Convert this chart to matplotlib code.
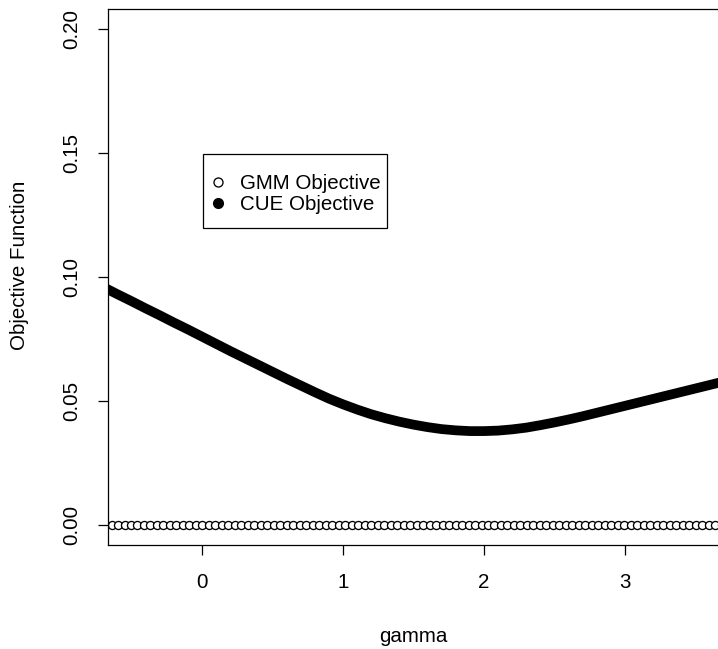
import numpy as np
import matplotlib
matplotlib.use("Agg")
import matplotlib.pyplot as plt
from matplotlib.patches import Rectangle

plt.rcParams['font.family'] = ['Liberation Sans', 'DejaVu Sans']

# CUE objective, gamma step 0.1
cue_gamma = [-0.7, -0.6, -0.5, -0.4, -0.3, -0.2, -0.1, 0.0, 0.1, 0.2,
             0.3, 0.4, 0.5, 0.6, 0.7, 0.8, 0.9, 1.0, 1.1, 1.2,
             1.3, 1.4, 1.5, 1.6, 1.7, 1.8, 1.9, 2.0, 2.1, 2.2,
             2.3, 2.4, 2.5, 2.6, 2.7, 2.8, 2.9, 3.0, 3.1, 3.2,
             3.3, 3.4, 3.5, 3.6, 3.7]
cue_obj = [0.0960, 0.0931, 0.0903, 0.0874, 0.0846, 0.0817, 0.0789, 0.0760, 0.0731, 0.0702,
           0.0674, 0.0646, 0.0618, 0.0590, 0.0563, 0.0536, 0.0510, 0.0487, 0.0466, 0.0447,
           0.0431, 0.0417, 0.0405, 0.0395, 0.0387, 0.0382, 0.0379, 0.0379, 0.0381, 0.0386,
           0.0393, 0.0403, 0.0414, 0.0426, 0.0439, 0.0453, 0.0467, 0.0481, 0.0495, 0.0509,
           0.0523, 0.0537, 0.0551, 0.0565, 0.0579]

# GMM objective sits at zero across the whole grid
gmm_gamma = np.round(np.arange(-0.64, 3.72, 0.046), 3)
gmm_obj = [0.0] * len(gmm_gamma)

xticks = [0, 1, 2, 3]
yticks = [0.00, 0.05, 0.10, 0.15, 0.20]
ytick_labels = ["0.00", "0.05", "0.10", "0.15", "0.20"]

W, H = 718, 649
FS = 14.8
fig = plt.figure(figsize=(W / 100, H / 100), dpi=100)
ax = fig.add_axes([108 / W, 104 / H, 611 / W, 536 / H])

ax.plot(gmm_gamma, gmm_obj, linestyle='none', marker='o', ms=5.8,
        mfc='white', mec='black', mew=0.95, clip_on=True)
ax.plot(cue_gamma, cue_obj, color='black', lw=7.0, solid_capstyle='round',
        clip_on=True)

ax.set_xlim(-0.665, 3.665)
ax.set_ylim(-0.008, 0.208)
ax.set_xticks(xticks)
ax.set_yticks(yticks)
ax.set_yticklabels(ytick_labels, rotation=90, va='center')
ax.tick_params(direction='out', length=7.5, width=0.9, labelsize=FS, colors='black')
ax.tick_params(axis='x', pad=12.5)
ax.tick_params(axis='y', pad=12)
ax.spines['right'].set_visible(False)
for s in ['left', 'top', 'bottom']:
    ax.spines[s].set_linewidth(0.9)

fig.text(413 / W, 1 - 637 / H, "gamma", ha='center', va='center', fontsize=FS)
fig.text(20 / W, 1 - 265 / H, "Objective Function", ha='center', va='center',
         rotation=90, fontsize=FS)

# legend box drawn by hand so the padding can differ in x and y
fig.patches.append(Rectangle((203 / W, 1 - 228 / H), 184 / W, 74 / H,
                             transform=fig.transFigure, fill=False,
                             edgecolor='black', lw=0.9, zorder=5))
leg = fig.legend(
    [plt.Line2D([], [], ls='none', marker='o', ms=6.5, mfc='white', mec='black', mew=0.95),
     plt.Line2D([], [], ls='none', marker='o', ms=7, mfc='black', mec='black')],
    ["GMM Objective", "CUE Objective"],
    loc='upper left', bbox_to_anchor=(212 / W, 1 - 174 / H),
    frameon=False, fontsize=FS, handlelength=0.6, handletextpad=0.75,
    borderpad=0, labelspacing=0.1, borderaxespad=0)

fig.savefig("out.png", dpi=100)
